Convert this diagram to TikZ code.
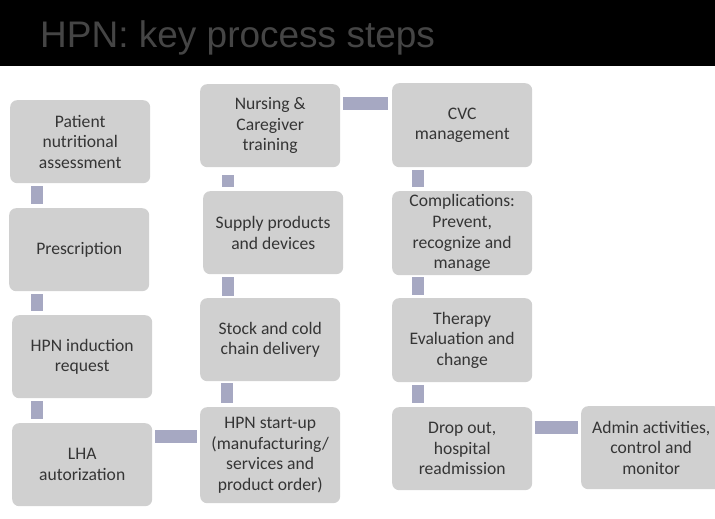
\documentclass[tikz,border=0pt]{standalone}
\usepackage{fontspec}
\setmainfont{Carlito}
\newfontfamily\titlefont{Liberation Sans}
\usetikzlibrary{calc}
\definecolor{boxfill}{HTML}{D0D0D0}
\definecolor{boxtext}{HTML}{353535}
\definecolor{linkcol}{HTML}{A6A8C2}
\definecolor{titlecol}{HTML}{454545}
\tikzset{
  stepbox/.style={draw=none, fill=boxfill, rounded corners=7pt, minimum width=140pt,
    minimum height=83pt, align=center, text=boxtext, inner sep=0pt,
    font=\fontsize{17.6}{20.6}\selectfont, anchor=north west},
  link/.style={draw=linkcol, line width=12pt},
}
\begin{document}
\begin{tikzpicture}[x=1pt,y=-1pt]
\useasboundingbox (0,0) rectangle (715,519);
\fill[white] (0,0) rectangle (715,519);
\fill[black] (0,0) rectangle (715,66);
\node[anchor=base west, inner sep=0pt, text=titlecol, font=\titlefont\fontsize{37}{40}\selectfont] (title) at (40,48) {HPN: key process steps};

% column 1
\node[stepbox] (pna) at (10,100) {Patient\\nutritional\\assessment};
\node[stepbox] (presc) at (9,208) {Prescription};
\node[stepbox] (ind) at (12,315) {HPN induction\\request};
\node[stepbox] (lha) at (12,423) {LHA\\autorization};
% column 2
\node[stepbox] (nurs) at (200,84) {Nursing \&\\Caregiver\\training};
\node[stepbox] (supp) at (203,191) {Supply products\\and devices};
\node[stepbox] (stock) at (200,298) {Stock and cold\\chain delivery};
\node[stepbox, minimum height=96pt] (start) at (200,407) {HPN start-up\\(manufacturing/\\services and\\product order)};
% column 3
\node[stepbox, minimum height=84pt] (cvc) at (392,83) {CVC\\management};
\node[stepbox, minimum height=84pt] (comp) at (392,191) {Complications:\\Prevent,\\recognize and\\manage};
\node[stepbox, minimum height=84pt] (ther) at (392,298) {Therapy\\Evaluation and\\change};
\node[stepbox] (drop) at (392,407) {Drop out,\\hospital\\readmission};
% column 4
\node[stepbox] (admin) at (581,406) {Admin activities,\\control and\\monitor};

% vertical links
\draw[link] ($(pna.south west)+(27,3)$) coordinate (l1) -- ($(l1 |- presc.north)+(0,-4)$);
\draw[link] ($(presc.south west)+(28,3)$) coordinate (l2) -- ($(l2 |- ind.north)+(0,-4)$);
\draw[link] ($(ind.south west)+(25,3)$) coordinate (l3) -- ($(l3 |- lha.north)+(0,-4)$);
\draw[link] ($(nurs.south west)+(28,8)$) coordinate (l4) -- ($(l4 |- supp.north)+(0,-4)$);
\draw[link] ($(supp.south west)+(25,3)$) coordinate (l5) -- ($(l5 |- stock.north)+(0,-2)$);
\draw[link] ($(stock.south west)+(27,2)$) coordinate (l6) -- ($(l6 |- start.north)+(0,-4)$);
\draw[link] ($(cvc.south west)+(26,3)$) coordinate (l7) -- ($(l7 |- comp.north)+(0,-4)$);
\draw[link] ($(comp.south west)+(26,2)$) coordinate (l8) -- ($(l8 |- ther.north)+(0,-3)$);
\draw[link] ($(ther.south west)+(26,3)$) coordinate (l9) -- ($(l9 |- drop.north)+(0,-4)$);
% horizontal links
\draw[link, line width=13pt] ($(nurs.north east)+(3,19)$) coordinate (h1) -- ($(h1 -| cvc.west)+(-4,0)$);
\draw[link, line width=13pt] ($(lha.north east)+(3,13)$) coordinate (h2) -- ($(h2 -| start.west)+(-3,0)$);
\draw[link, line width=13pt] ($(drop.north east)+(3,20)$) coordinate (h3) -- ($(h3 -| admin.west)+(-3,0)$);
\end{tikzpicture}
\end{document}
